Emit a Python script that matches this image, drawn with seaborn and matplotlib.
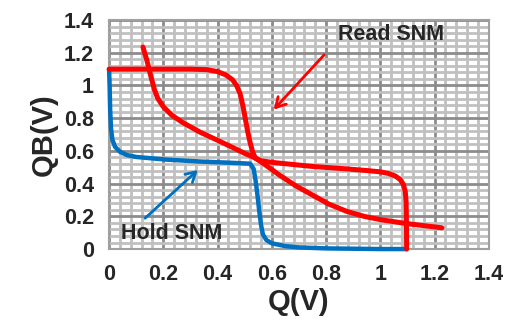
import numpy as np
import pandas as pd
import matplotlib
matplotlib.use("Agg")
import matplotlib.pyplot as plt
import seaborn as sns
from matplotlib.ticker import MultipleLocator

# ---- data ----
read1_q  = [0.0, 0.20, 0.30, 0.36, 0.40, 0.43, 0.455, 0.47, 0.483, 0.494, 0.503, 0.512, 0.52, 0.53, 0.54,
            0.56, 0.60, 0.63, 0.75, 0.877, 0.95, 1.0, 1.03, 1.055, 1.073, 1.085, 1.092, 1.095, 1.096, 1.097]
read1_qb = [1.10, 1.10, 1.10, 1.097, 1.085, 1.065, 1.035, 1.0, 0.95, 0.87, 0.79, 0.71, 0.65, 0.59, 0.555,
            0.54, 0.53, 0.525, 0.505, 0.49, 0.48, 0.472, 0.462, 0.447, 0.425, 0.395, 0.35, 0.29, 0.20, 0.0]

read2_q  = [0.125, 0.14, 0.155, 0.168, 0.18, 0.20, 0.23, 0.27, 0.335, 0.40, 0.457, 0.50, 0.54, 0.58,
            0.63, 0.69, 0.75, 0.81, 0.877, 0.94, 1.0, 1.10, 1.227]
read2_qb = [1.235, 1.15, 1.05, 0.97, 0.92, 0.87, 0.82, 0.775, 0.715, 0.665, 0.62, 0.585, 0.556, 0.51,
            0.45, 0.385, 0.33, 0.275, 0.23, 0.20, 0.18, 0.155, 0.13]

hold_q  = [0.0, 0.002, 0.004, 0.007, 0.012, 0.022, 0.04, 0.065, 0.10, 0.21, 0.335, 0.457, 0.52, 0.533,
           0.54, 0.547, 0.553, 0.56, 0.567, 0.58, 0.60, 0.65, 0.70, 0.80, 1.0, 1.097]
hold_qb = [1.10, 1.0, 0.85, 0.74, 0.67, 0.625, 0.595, 0.575, 0.563, 0.547, 0.535, 0.527, 0.522, 0.49,
           0.42, 0.33, 0.24, 0.15, 0.09, 0.055, 0.035, 0.018, 0.01, 0.004, 0.0, 0.0]

ticks = [0, 0.2, 0.4, 0.6, 0.8, 1.0, 1.2, 1.4]
tick_labels = ["0", "0.2", "0.4", "0.6", "0.8", "1", "1.2", "1.4"]

sns.set_style("white")
plt.rcParams["font.family"] = ["Liberation Sans", "DejaVu Sans"]
plt.rcParams["font.weight"] = "bold"

fig = plt.figure(figsize=(5.05, 3.29), dpi=100)
ax = fig.add_axes([0.216, 0.243, 0.752, 0.696])

def seg(q, qb, name):
    return pd.DataFrame({"Q": q, "QB": qb, "curve": name, "order": range(len(q))})

df = pd.concat([seg(hold_q, hold_qb, "hold"),
                seg(read2_q, read2_qb, "read2"),
                seg(read1_q, read1_qb, "read1")], ignore_index=True)

styles = {"hold": ("#0070c0", 3.2), "read2": ("#ff0000", 3.6), "read1": ("#ff0000", 3.6)}
for name in ["hold", "read2", "read1"]:
    d = df[df["curve"] == name]
    c, lw = styles[name]
    sns.lineplot(data=d, x="Q", y="QB", sort=False, color=c,
                 linewidth=lw, ax=ax, solid_capstyle="round", solid_joinstyle="round", legend=False)
for ln in ax.lines:
    ln.set_clip_on(False)
    ln.set_zorder(3)

ax.set_xlim(0, 1.4)
ax.set_ylim(0, 1.4)
ax.set_xticks(ticks)
ax.set_xticklabels(tick_labels)
ax.set_yticks(ticks)
ax.set_yticklabels(tick_labels)
ax.xaxis.set_minor_locator(MultipleLocator(0.04))
ax.yaxis.set_minor_locator(MultipleLocator(0.04))
ax.grid(which="minor", color="#c0c0c0", linewidth=2.0)
ax.grid(which="major", color="#8c8c8c", linewidth=2.0)
ax.set_axisbelow(True)
for s in ax.spines.values():
    s.set_color("#a0a0a0")
    s.set_linewidth(1.5)
    s.set_zorder(1)
ax.tick_params(axis="both", which="major", length=5, width=1.5, color="#a0a0a0",
               labelsize=15.5, pad=6, direction="out")
ax.tick_params(axis="both", which="minor", length=0)
for lab in ax.get_xticklabels() + ax.get_yticklabels():
    lab.set_fontweight("bold")

ax.set_xlabel("Q(V)", fontsize=21, fontweight="bold", labelpad=2)
ax.set_ylabel("QB(V)", fontsize=21, fontweight="bold", labelpad=4)

ax.annotate("", xy=(0.60, 0.84), xytext=(0.80, 1.20),
            arrowprops=dict(arrowstyle="->,head_length=0.7,head_width=0.4", color="#ff0000", lw=2))
ax.text(1.04, 1.31, "Read SNM", fontsize=15.5, fontweight="bold", ha="center", va="center")
ax.annotate("", xy=(0.335, 0.495), xytext=(0.125, 0.177),
            arrowprops=dict(arrowstyle="->,head_length=0.7,head_width=0.4", color="#0070c0", lw=2))
ax.text(0.23, 0.098, "Hold SNM", fontsize=15.5, fontweight="bold", ha="center", va="center")

fig.savefig("out.png", dpi=100)
